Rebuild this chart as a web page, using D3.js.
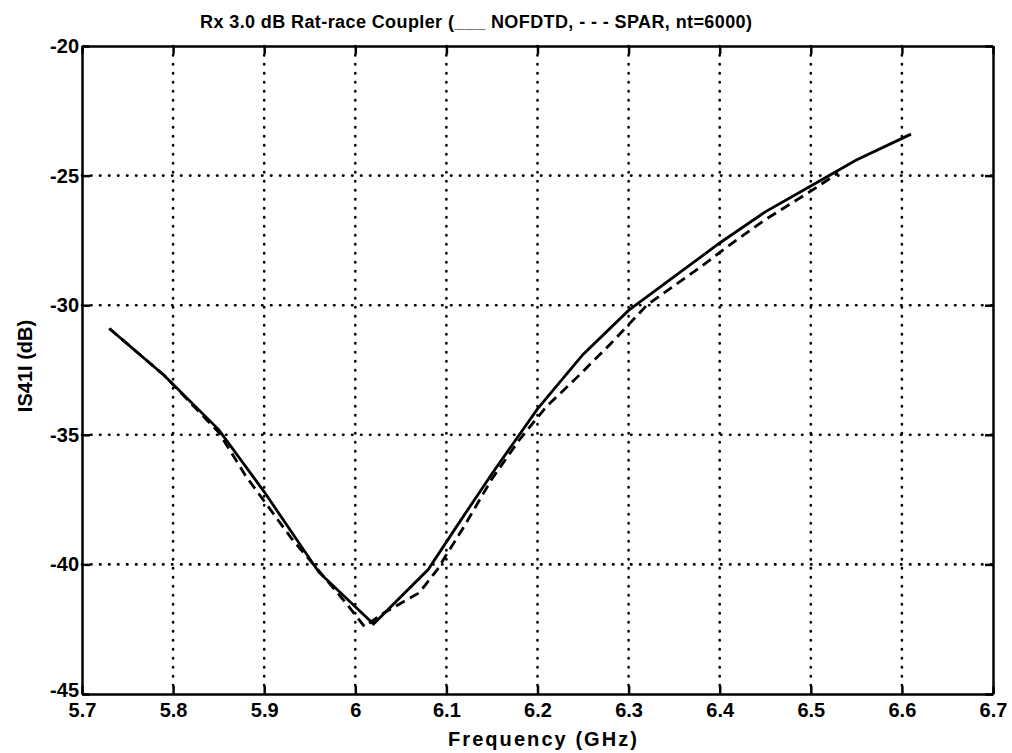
<!DOCTYPE html>
<html lang="en">
<head>
    <meta charset="UTF-8">
    <title>Rx 3.0 dB Rat-race Coupler</title>
    <script src="https://d3js.org/d3.v7.min.js"></script>
    <style>
        body { margin: 0; background: #fff; }
        svg { font-family: "Liberation Sans", Arial, sans-serif; font-weight: bold; }
        .grid line { stroke: #000; stroke-width: 2.6; stroke-dasharray: 0.5 8.5; stroke-linecap: round; }
        .axis path, .axis line { stroke: #000; stroke-width: 2.5; }
        .axis text { font-size: 20px; font-weight: bold; fill: #000; font-family: "Liberation Sans", Arial, sans-serif; }
        .solid { fill: none; stroke: #000; stroke-width: 2.8; }
        .dashed { fill: none; stroke: #000; stroke-width: 2.8; stroke-dasharray: 10 6; }
    </style>
</head>
<body>
<div id="chart"></div>
<script>
    // frequency (GHz) / |S41| (dB)
    var nofdtdFreq = [5.73, 5.79, 5.85, 5.90, 5.96, 6.02, 6.08, 6.11, 6.15, 6.20, 6.25, 6.30, 6.35, 6.40, 6.45, 6.50, 6.55, 6.61];
    var nofdtdDb   = [-30.9, -32.7, -34.8, -37.2, -40.3, -42.3, -40.2, -38.6, -36.5, -34.0, -31.9, -30.2, -28.9, -27.6, -26.4, -25.4, -24.4, -23.4];

    var sparFreq = [5.73, 5.79, 5.85, 5.88, 5.93, 5.99, 6.01, 6.03, 6.07, 6.09, 6.12, 6.15, 6.18, 6.21, 6.24, 6.28, 6.32, 6.38, 6.41, 6.45, 6.50, 6.53];
    var sparDb   = [-30.9, -32.7, -34.9, -36.6, -39.0, -41.5, -42.4, -41.9, -41.1, -40.2, -38.5, -36.7, -35.2, -33.9, -32.9, -31.5, -30.0, -28.5, -27.7, -26.7, -25.6, -24.9];

    var xTicks = [5.7, 5.8, 5.9, 6.0, 6.1, 6.2, 6.3, 6.4, 6.5, 6.6, 6.7];
    var yTicks = [-20, -25, -30, -35, -40, -45];

    var w = 1012, h = 753;
    var mLeft = 82, mRight = 993, mTop = 46, mBottom = 694;

    var xScale = d3.scaleLinear().domain([5.7, 6.7]).range([mLeft, mRight]);
    var yScale = d3.scaleLinear().domain([-45, -20]).range([mBottom, mTop]);

    var svg = d3.select("#chart").append("svg")
        .attr("width", w)
        .attr("height", h);

    // dotted grid
    var grid = svg.append("g").attr("class", "grid");
    grid.selectAll(".vg")
        .data(xTicks.slice(1, -1))
        .enter().append("line")
        .attr("x1", function(d) { return xScale(d); })
        .attr("x2", function(d) { return xScale(d); })
        .attr("y1", mTop)
        .attr("y2", mBottom);
    grid.selectAll(".hg")
        .data(yTicks.slice(1, -1))
        .enter().append("line")
        .attr("x1", mLeft)
        .attr("x2", mRight)
        .attr("y1", function(d) { return yScale(d); })
        .attr("y2", function(d) { return yScale(d); });

    var line = d3.line()
        .x(function(d) { return xScale(d[0]); })
        .y(function(d) { return yScale(d[1]); });

    svg.append("path")
        .datum(d3.zip(sparFreq, sparDb))
        .attr("class", "dashed")
        .attr("d", line);

    svg.append("path")
        .datum(d3.zip(nofdtdFreq, nofdtdDb))
        .attr("class", "solid")
        .attr("d", line);

    var fmtX = function(d) { return d === 6 ? "6" : d.toFixed(1); };
    var fmtY = function(d) { return String(d); };   // plain hyphen, not U+2212

    // axes with inward ticks on all four sides
    svg.append("g")
        .attr("class", "axis")
        .attr("transform", "translate(0," + mBottom + ")")
        .call(d3.axisBottom(xScale).tickValues(xTicks).tickFormat(fmtX).tickSizeInner(-8).tickSizeOuter(0).tickPadding(9));
    svg.append("g")
        .attr("class", "axis")
        .attr("transform", "translate(0," + mTop + ")")
        .call(d3.axisTop(xScale).tickValues(xTicks).tickFormat("").tickSizeInner(-8).tickSizeOuter(0));
    var yAxis = svg.append("g")
        .attr("class", "axis")
        .attr("transform", "translate(" + mLeft + ",0)")
        .call(d3.axisLeft(yScale).tickValues(yTicks).tickFormat(fmtY).tickSizeInner(-8).tickSizeOuter(0).tickPadding(3));
    // the -45 label sits just above the corner, as in the original
    yAxis.selectAll(".tick text")
        .filter(function(d) { return d === -45; })
        .attr("dy", "0.1em");
    svg.append("g")
        .attr("class", "axis")
        .attr("transform", "translate(" + mRight + ",0)")
        .call(d3.axisRight(yScale).tickValues(yTicks).tickFormat("").tickSizeInner(-8).tickSizeOuter(0));

    svg.append("text")
        .attr("x", 200)
        .attr("y", 28)
        .attr("font-size", 18)
        .attr("textLength", 552)
        .text("Rx 3.0 dB Rat-race Coupler (___ NOFDTD, - - - SPAR, nt=6000)");

    svg.append("text")
        .attr("x", 448)
        .attr("y", 746)
        .attr("font-size", 20)
        .attr("textLength", 189)
        .text("Frequency (GHz)");

    svg.append("text")
        .attr("transform", "translate(32,366) rotate(-90)")
        .attr("text-anchor", "middle")
        .attr("font-size", 20)
        .text("IS41I (dB)");
</script>
</body>
</html>
